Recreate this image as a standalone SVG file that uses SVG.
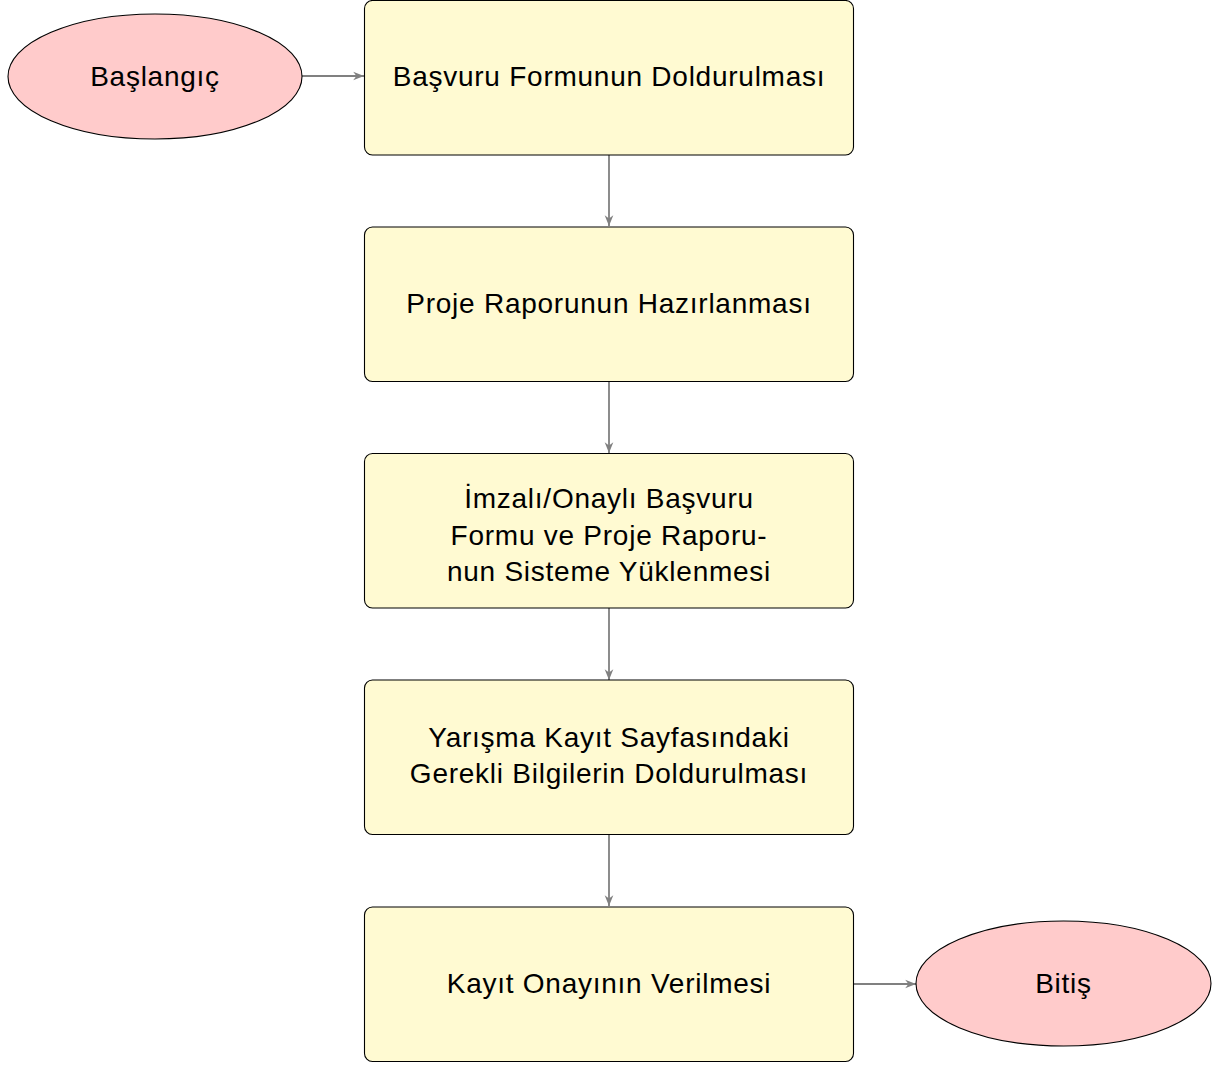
<svg xmlns="http://www.w3.org/2000/svg" width="1214" height="1065" viewBox="0 0 1214 1065">
<defs>
<style>
.box{fill:#fffad2;stroke:#000;stroke-width:1.1}
.oval{fill:#ffcbcb;stroke:#000;stroke-width:1.1}
.t{font-family:"Liberation Sans","DejaVu Sans",sans-serif;font-size:28px;letter-spacing:0.75px;fill:#000;text-anchor:middle}
.c{stroke:#808080;stroke-width:1.8;fill:none;marker-end:url(#ah)}
</style>
<marker id="ah" viewBox="0 0 10 10" refX="10" refY="5" markerWidth="6" markerHeight="6" orient="auto" markerUnits="strokeWidth">
<path d="M0,1 L10,5 L0,9 L3,5 Z" fill="#808080"/>
</marker>
</defs>
<rect width="1214" height="1065" fill="#fff"/>
<g id="connectors">
<line class="c" x1="302" y1="76" x2="364" y2="76"/>
<line class="c" x1="609" y1="155" x2="609" y2="226"/>
<line class="c" x1="609" y1="382" x2="609" y2="453"/>
<line class="c" x1="609" y1="608" x2="609" y2="680"/>
<line class="c" x1="609" y1="835" x2="609" y2="906"/>
<line class="c" x1="854" y1="984" x2="916" y2="984"/>
</g>
<g id="start">
<ellipse class="oval" cx="155" cy="76.5" rx="147" ry="62.5"/>
<text class="t" x="155" y="86">Başlangıç</text>
</g>
<g id="step1">
<rect class="box" x="364.5" y="0.5" width="489" height="154.5" rx="8"/>
<text class="t" x="609" y="86">Başvuru Formunun Doldurulması</text>
</g>
<g id="step2">
<rect class="box" x="364.5" y="227" width="489" height="154.5" rx="8"/>
<text class="t" x="609" y="313">Proje Raporunun Hazırlanması</text>
</g>
<g id="step3">
<rect class="box" x="364.5" y="453.5" width="489" height="154.5" rx="8"/>
<text class="t" x="609" y="508">İmzalı/Onaylı Başvuru</text>
<text class="t" x="609" y="545">Formu ve Proje Raporu-</text>
<text class="t" x="609" y="581">nun Sisteme Yüklenmesi</text>
</g>
<g id="step4">
<rect class="box" x="364.5" y="680" width="489" height="154.5" rx="8"/>
<text class="t" x="609" y="747">Yarışma Kayıt Sayfasındaki</text>
<text class="t" x="609" y="783">Gerekli Bilgilerin Doldurulması</text>
</g>
<g id="step5">
<rect class="box" x="364.5" y="907" width="489" height="154.5" rx="8"/>
<text class="t" x="609" y="993">Kayıt Onayının Verilmesi</text>
</g>
<g id="end">
<ellipse class="oval" cx="1063.5" cy="983.5" rx="147.5" ry="62.5"/>
<text class="t" x="1063.5" y="993">Bitiş</text>
</g>
</svg>
